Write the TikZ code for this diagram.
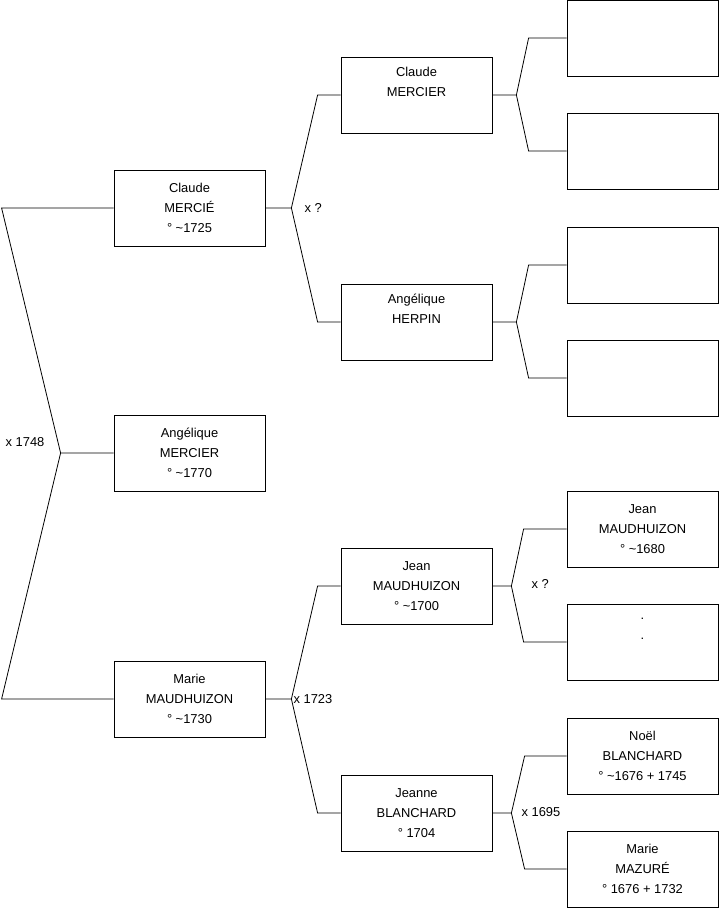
\documentclass[tikz,border=0pt]{standalone}
\usepackage{fontspec}
\setmainfont{Liberation Sans}
\usetikzlibrary{positioning}

\begin{document}
\begin{tikzpicture}[
  x=1pt, y=-1pt,
  person/.style={rectangle, draw, line width=0.8pt, minimum width=151pt, minimum height=76pt, inner sep=0pt, align=center, font=\fontsize{12.9}{20}\selectfont},
  link/.style={line width=0.8pt},
  union/.style={inner sep=0pt, font=\fontsize{12.9}{15}\selectfont}
]
\useasboundingbox (0,0) rectangle (719,908);

% generation 1
\node[person] (cmercie) at (189.5,208) {Claude\\MERCIÉ\\° \textasciitilde1725};
\node[person] (amercier) at (189.5,453) {Angélique\\MERCIER\\° \textasciitilde1770};
\node[person] (mmaudh) at (189.5,699) {Marie\\MAUDHUIZON\\° \textasciitilde1730};

% generation 2
\node[person] (cmercier) at (416.5,95) {Claude\\MERCIER\\\strut};
\node[person] (aherpin) at (416.5,322) {Angélique\\HERPIN\\\strut};
\node[person] (jmaudh) at (416.5,586) {Jean\\MAUDHUIZON\\° \textasciitilde1700};
\node[person] (jblanch) at (416.5,813) {Jeanne\\BLANCHARD\\° 1704};

% generation 3
\node[person] (cmercierp) at (642.5,38) {};
\node[person] (cmercierm) at (642.5,151) {};
\node[person] (aherpinp) at (642.5,265) {};
\node[person] (aherpinm) at (642.5,378) {};
\node[person] (jmaudhp) at (642.5,529) {Jean\\MAUDHUIZON\\° \textasciitilde1680};
\node[person] (jmaudhm) at (642.5,642) {.\\.\\\strut};
\node[person] (nblanch) at (642.5,756) {Noël\\BLANCHARD\\° \textasciitilde1676 + 1745};
\node[person] (mmazure) at (642.5,869) {Marie\\MAZURÉ\\° 1676 + 1732};

% liens parents
\draw[link] (amercier.west) -- ++(-53,0) coordinate (froot) -- ([xshift=-112pt]cmercie.west) -- (cmercie.west);
\draw[link] (froot) -- ([xshift=-112pt]mmaudh.west) -- (mmaudh.west);

\draw[link] (cmercie.east) -- ++(26,0) coordinate (fcm) -- ([xshift=-23pt]cmercier.west) -- (cmercier.west);
\draw[link] (fcm) -- ([xshift=-23pt]aherpin.west) -- (aherpin.west);

\draw[link] (mmaudh.east) -- ++(26,0) coordinate (fmm) -- ([xshift=-23pt]jmaudh.west) -- (jmaudh.west);
\draw[link] (fmm) -- ([xshift=-23pt]jblanch.west) -- (jblanch.west);

\draw[link] (cmercier.east) -- ++(24,0) coordinate (fcr) -- ([xshift=-38pt]cmercierp.west) -- (cmercierp.west);
\draw[link] (fcr) -- ([xshift=-38pt]cmercierm.west) -- (cmercierm.west);

\draw[link] (aherpin.east) -- ++(24,0) coordinate (fah) -- ([xshift=-38pt]aherpinp.west) -- (aherpinp.west);
\draw[link] (fah) -- ([xshift=-38pt]aherpinm.west) -- (aherpinm.west);

\draw[link] (jmaudh.east) -- ++(19,0) coordinate (fjm) -- ([xshift=-43pt]jmaudhp.west) -- (jmaudhp.west);
\draw[link] (fjm) -- ([xshift=-43pt]jmaudhm.west) -- (jmaudhm.west);

\draw[link] (jblanch.east) -- ++(19,0) coordinate (fjb) -- ([xshift=-42pt]nblanch.west) -- (nblanch.west);
\draw[link] (fjb) -- ([xshift=-42pt]mmazure.west) -- (mmazure.west);

% mariages
\node[union, anchor=east] (xroot) at ([xshift=-16pt,yshift=11pt]froot) {x 1748};
\node[union, anchor=west] (xcm) at ([xshift=13pt]fcm) {x ?};
\node[union, anchor=west] (xmm) at ([xshift=2pt]fmm) {x 1723};
\node[union, anchor=west] (xjm) at ([xshift=20pt,yshift=2pt]fjm) {x ?};
\node[union, anchor=west] (xjb) at ([xshift=10pt,yshift=1pt]fjb) {x 1695};

\end{tikzpicture}
\end{document}
